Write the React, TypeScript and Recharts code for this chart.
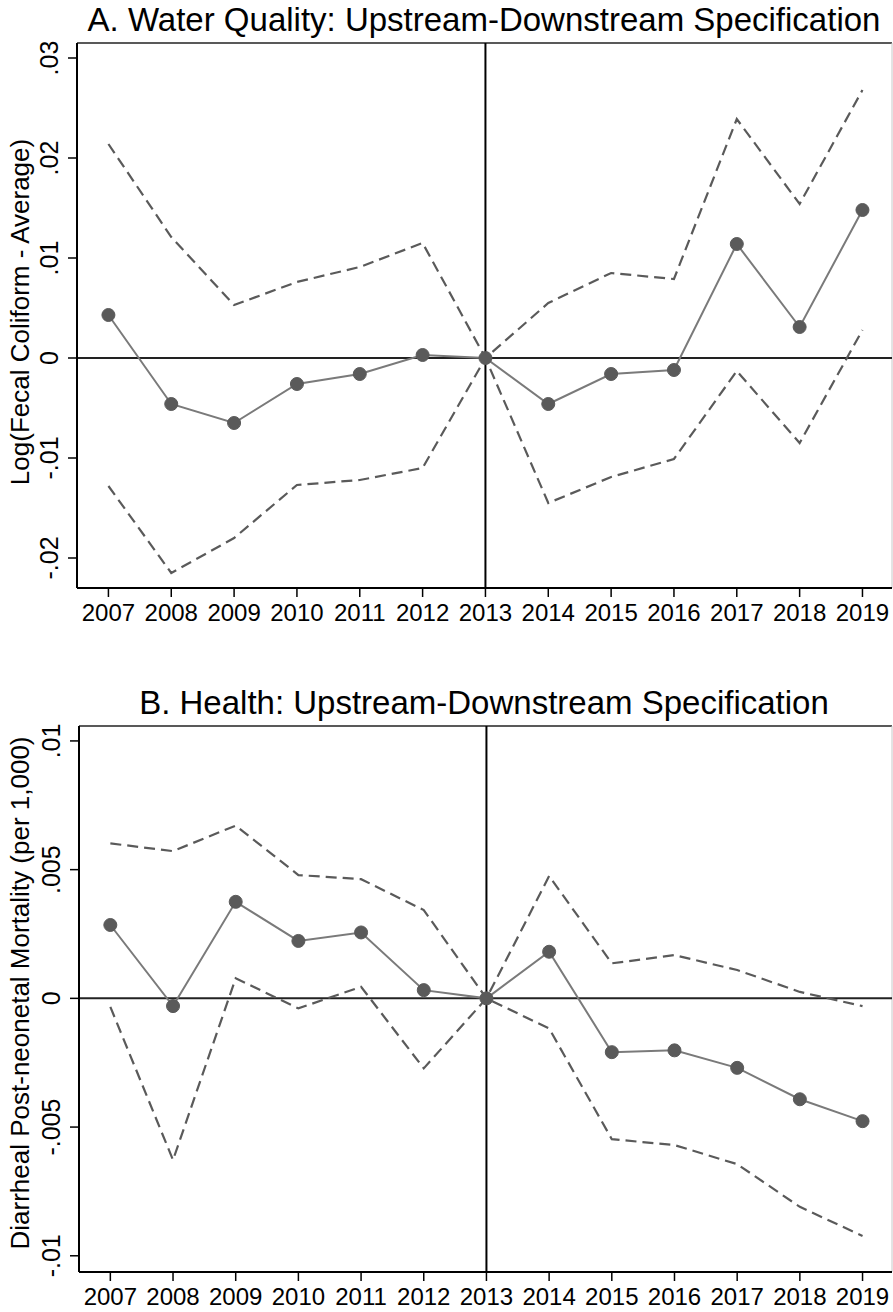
import React from 'react'
import { LineChart, Line, XAxis, YAxis, ReferenceLine } from 'recharts'

const years = [2007, 2008, 2009, 2010, 2011, 2012, 2013, 2014, 2015, 2016, 2017, 2018, 2019]

// Panel A: water quality
const waterCoef = [0.0043, -0.0046, -0.0065, -0.0026, -0.0016, 0.0003, 0, -0.0046, -0.0016, -0.0012, 0.0114, 0.0031, 0.0148]
const waterUpper = [0.0214, 0.0121, 0.0053, 0.0076, 0.0091, 0.0115, 0, 0.0055, 0.0085, 0.0079, 0.0239, 0.0154, 0.0268]
const waterLower = [-0.0128, -0.0215, -0.018, -0.0127, -0.0122, -0.011, 0, -0.0145, -0.0119, -0.0101, -0.0013, -0.0085, 0.0028]
const waterTicks = [-0.02, -0.01, 0, 0.01, 0.02, 0.03]

// Panel B: health
const healthCoef = [0.00285, -0.0003, 0.00375, 0.00223, 0.00256, 0.00032, 0, 0.00181, -0.00209, -0.00202, -0.0027, -0.00392, -0.00477]
const healthUpper = [0.00602, 0.00572, 0.00671, 0.00479, 0.00463, 0.00343, 0, 0.00475, 0.00136, 0.00168, 0.0011, 0.00025, -0.0003]
const healthLower = [-0.00033, -0.00628, 0.00078, -0.00039, 0.00045, -0.00272, 0, -0.00117, -0.00547, -0.0057, -0.00644, -0.0081, -0.00923]
const healthTicks = [-0.01, -0.005, 0, 0.005, 0.01]

const FONT = '"Liberation Sans", Arial, Helvetica, sans-serif'
const X_DOMAIN: [number, number] = [2006.5, 2019.47]

const waterData = years.map((year, i) => ({ year, coef: waterCoef[i], upper: waterUpper[i], lower: waterLower[i] }))
const healthData = years.map((year, i) => ({ year, coef: healthCoef[i], upper: healthUpper[i], lower: healthLower[i] }))

// stata style: .03, -.005, 0
function fmt(v: number) {
  if (v === 0) return '0'
  return (v < 0 ? '-' : '') + String(Math.abs(v)).replace(/^0/, '')
}

function makeYTick(baseX: number) {
  return function YTick(props: any) {
    const { y, payload } = props
    return (
      <text
        x={baseX}
        y={y}
        transform={`rotate(-90 ${baseX} ${y})`}
        textAnchor="middle"
        fontSize={25}
        fontFamily={FONT}
        fill="#000"
      >
        {fmt(payload.value)}
      </text>
    )
  }
}

type PanelProps = {
  data: any[]
  top: number
  height: number
  marginTop: number
  axisWidth: number
  xAxisHeight: number
  domain: [number, number]
  ticks: number[]
}

function Panel({ data, top, height, marginTop, axisWidth, xAxisHeight, domain, ticks }: PanelProps) {
  return (
    <div style={{ position: 'absolute', left: 0, top }}>
      <LineChart
        width={893}
        height={height}
        data={data}
        margin={{ top: marginTop, right: 1, bottom: 0, left: 0 }}
      >
        <XAxis
          dataKey="year"
          type="number"
          domain={X_DOMAIN}
          ticks={years}
          allowDataOverflow
          height={xAxisHeight}
          axisLine={{ stroke: '#000', strokeWidth: 2 }}
          tickLine={{ stroke: '#000', strokeWidth: 1.5 }}
          tickSize={9}
          tickMargin={7}
          tick={{ fontSize: 24, fill: '#000', fontFamily: FONT }}
        />
        <YAxis
          type="number"
          domain={domain}
          ticks={ticks}
          allowDataOverflow
          width={axisWidth}
          axisLine={{ stroke: '#000', strokeWidth: 2 }}
          tickLine={{ stroke: '#000', strokeWidth: 1.5 }}
          tickSize={9}
          tick={makeYTick(axisWidth - 19)}
        />
        <ReferenceLine y={domain[1]} stroke="#222" strokeWidth={1.5} />
        <ReferenceLine x={X_DOMAIN[1]} stroke="#c8c8c8" strokeWidth={1} />
        <ReferenceLine y={0} stroke="#222" strokeWidth={2} />
        <ReferenceLine x={2013} stroke="#000" strokeWidth={2} />
        <Line
          dataKey="upper"
          stroke="#5a5a5a"
          strokeWidth={2.2}
          strokeDasharray="11 6"
          dot={false}
          isAnimationActive={false}
        />
        <Line
          dataKey="lower"
          stroke="#5a5a5a"
          strokeWidth={2.2}
          strokeDasharray="11 6"
          dot={false}
          isAnimationActive={false}
        />
        <Line
          dataKey="coef"
          stroke="#7a7a7a"
          strokeWidth={2}
          dot={{ r: 6.5, fill: '#5a5a5a', stroke: '#5a5a5a', strokeWidth: 1 }}
          isAnimationActive={false}
        />
      </LineChart>
    </div>
  )
}

export default function App() {
  return (
    <div style={{ position: 'absolute', left: 0, top: 0, width: 893, height: 1312, background: '#fff' }}>
      <Panel
        data={waterData}
        top={0}
        height={650}
        marginTop={43}
        axisWidth={77}
        xAxisHeight={62}
        domain={[-0.023, 0.0315]}
        ticks={waterTicks}
      />
      <Panel
        data={healthData}
        top={660}
        height={652}
        marginTop={66}
        axisWidth={79}
        xAxisHeight={40}
        domain={[-0.01063, 0.01058]}
        ticks={healthTicks}
      />
      {/* titles and y titles */}
      <svg
        width={893}
        height={1312}
        style={{ position: 'absolute', left: 0, top: 0, pointerEvents: 'none' }}
        fontFamily={FONT}
      >
        <text x={484} y={31} textAnchor="middle" fontSize={33} fill="#000">
          A. Water Quality: Upstream-Downstream Specification
        </text>
        <text x={29} y={312} transform="rotate(-90 29 312)" textAnchor="middle" fontSize={26} fill="#000">
          Log(Fecal Coliform - Average)
        </text>
        <text x={484} y={714} textAnchor="middle" fontSize={33} fill="#000">
          B. Health: Upstream-Downstream Specification
        </text>
        <text x={29} y={993} transform="rotate(-90 29 993)" textAnchor="middle" fontSize={26} fill="#000">
          Diarrheal Post-neonetal Mortality (per 1,000)
        </text>
      </svg>
    </div>
  )
}
